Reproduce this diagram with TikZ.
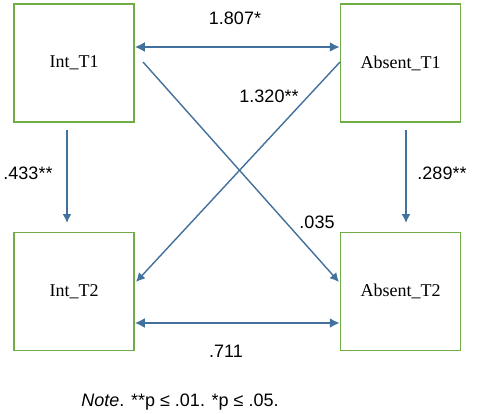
\documentclass[tikz,border=0pt]{standalone}
\usepackage{fontspec}
\setmainfont{Liberation Serif}
\setsansfont{Liberation Sans}
\usetikzlibrary{arrows.meta}
\definecolor{boxgreen}{HTML}{70AD47}
\definecolor{arrowblue}{HTML}{41719C}
\begin{document}
\begin{tikzpicture}[x=1pt,y=-1pt,
  varbox/.style={draw=boxgreen,line width=1.5pt,minimum width=120pt,minimum height=118pt,inner sep=0pt,font=\fontsize{18}{20}\selectfont\rmfamily},
  conn/.style={draw=arrowblue,line width=1.6pt,-{Latex[length=9pt,width=9pt]}},
  biconn/.style={draw=arrowblue,line width=2pt,{Latex[length=10pt,width=10pt]}-{Latex[length=10pt,width=10pt]}},
  lab/.style={font=\fontsize{18}{20}\selectfont\sffamily,inner sep=0pt}]
\useasboundingbox (0,0) rectangle (484,414);
\fill[white] (0,0) rectangle (484,414);
\node[varbox] (i1) at (74,63) {Int\_T1};
\node[varbox] (a1) at (400.5,63) {Absent\_T1};
\node[varbox] (i2) at (74,291.5) {Int\_T2};
\node[varbox] (a2) at (400.5,291.5) {Absent\_T2};
\coordinate (i1b) at (67,130);
\coordinate (i2t) at (67,223);
\coordinate (a1b) at (406,130);
\coordinate (a2t) at (406,223);
\coordinate (d1s) at (143,62);
\coordinate (d1e) at (339,282);
\coordinate (d2s) at (340,62);
\coordinate (d2e) at (136,282);
\draw[biconn] (i1.east |- 0,47) -- (a1.west |- 0,47);
\draw[biconn] (i2.east |- 0,323) -- (a2.west |- 0,323);
\draw[conn] (i1b) -- (i2t);
\draw[conn] (a1b) -- (a2t);
\draw[conn,line width=1.4pt] (d1s) -- (d1e);
\draw[conn,line width=1.4pt] (d2s) -- (d2e);
\node[lab] (l1) at (235,18) {1.807*};
\node[lab] (l2) at (269,96) {1.320**};
\node[lab] (l3) at (28,173) {.433**};
\node[lab] (l4) at (442,173) {.289**};
\node[lab] (l5) at (317,222) {.035};
\node[lab] (l6) at (226,351) {.711};
\node[lab] (note) at (180,402) {\textit{Note}. **p ≤ .01. *p ≤ .05.};
\end{tikzpicture}
\end{document}
